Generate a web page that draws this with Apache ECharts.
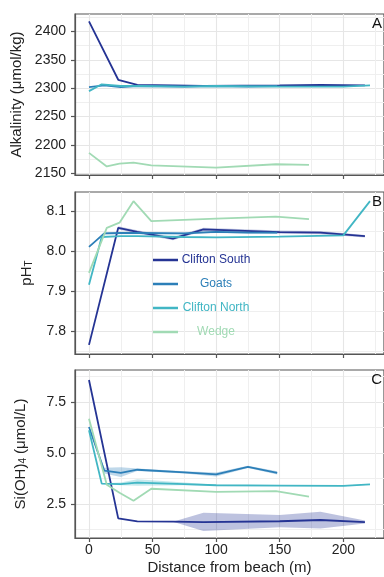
<!DOCTYPE html>
<html>
<head>
<meta charset="utf-8">
<script src="https://cdn.jsdelivr.net/npm/echarts@6/dist/echarts.min.js"></script>
<style>
html, body { margin: 0; padding: 0; background: #fff; }
#chart { width: 384px; height: 577px; }
</style>
</head>
<body>
<div id="chart"></div>
<script>
const sites = ['Clifton South', 'Goats', 'Clifton North', 'Wedge']
const siteColors = ['#253494', '#2c7fb8', '#41b6c4', '#a1dab4']

// Clifton South
const csDist = [0, 23, 38, 66, 90, 150, 182, 217]
const csAlk = [2418, 2315, 2306, 2305, 2304, 2305, 2306, 2305]
const csPH = [7.765, 8.059, 8.049, 8.032, 8.055, 8.048, 8.047, 8.038]
const csPHLo = [7.765, 8.055, 8.045, 8.028, 8.051, 8.044, 8.043, 8.035]
const csPHHi = [7.765, 8.063, 8.053, 8.036, 8.059, 8.052, 8.051, 8.041]
const csSi = [8.57, 1.80, 1.65, 1.64, 1.62, 1.66, 1.72, 1.62]
const csSiLo = [8.57, 1.80, 1.65, 1.64, 1.18, 1.37, 1.30, 1.55]
const csSiHi = [8.57, 1.80, 1.65, 1.64, 2.08, 1.97, 2.12, 1.70]

// Goats
const gDist = [0, 12, 25, 38, 75, 100, 125, 148]
const gAlk = [2302, 2305, 2302, 2304, 2303, 2304, 2303, 2304]
const gPH = [8.011, 8.045, 8.046, 8.046, 8.045, 8.049, 8.047, 8.047]
const gPHLo = [8.011, 8.042, 8.043, 8.043, 8.042, 8.046, 8.044, 8.044]
const gPHHi = [8.011, 8.048, 8.049, 8.049, 8.048, 8.052, 8.050, 8.050]
const gSi = [6.27, 4.14, 4.03, 4.18, 4.05, 3.95, 4.32, 4.03]
const gSiLo = [6.27, 4.00, 3.83, 4.12, 4.00, 3.85, 4.27, 3.95]
const gSiHi = [6.27, 4.28, 4.30, 4.24, 4.10, 4.05, 4.37, 4.10]

// Clifton North
const cnDist = [0, 10, 25, 38, 75, 100, 150, 200, 221]
const cnAlk = [2295, 2307, 2304, 2304, 2303, 2304, 2303, 2303, 2305]
const cnPH = [7.916, 8.036, 8.038, 8.038, 8.036, 8.035, 8.037, 8.040, 8.126]
const cnSi = [6.11, 3.50, 3.48, 3.55, 3.48, 3.42, 3.40, 3.39, 3.46]
const cnSiLo = [6.11, 3.48, 3.42, 3.40, 3.42, 3.40, 3.38, 3.37, 3.44]
const cnSiHi = [6.11, 3.52, 3.55, 3.72, 3.55, 3.44, 3.42, 3.41, 3.48]

// Wedge
const wDist = [0, 14, 24, 35, 49, 100, 147, 173]
const wAlk = [2186, 2162, 2167, 2169, 2164, 2160, 2166, 2165]
const wPH = [7.946, 8.059, 8.072, 8.126, 8.076, 8.082, 8.087, 8.081]
const wSi = [6.68, 3.45, 3.05, 2.66, 3.25, 3.10, 3.13, 2.86]

const xTicks = [0, 50, 100, 150, 200]
const xMinor = [25, 75, 125, 175, 225]
const alkTicks = [2150, 2200, 2250, 2300, 2350, 2400]
const alkMinor = [2175, 2225, 2275, 2325, 2375, 2425]
const phTicks = [7.8, 7.9, 8.0, 8.1]
const phMinor = [7.75, 7.85, 7.95, 8.05, 8.15]
const siTicks = [2.5, 5.0, 7.5]
const siMinor = [1.25, 3.75, 6.25, 8.75]

const FONT = 'Liberation Sans'
const AXIS = '#555'
const TXT = '#222'

let chart = echarts.init(document.getElementById('chart'), null, { renderer: 'canvas' })

let panels = [
  { top: 14, height: 161, min: 2147, max: 2431, ticks: alkTicks, minor: alkMinor, fmt: v => String(v),
    name: 'Alkalinity (μmol/kg)', gap: 47, letter: 'A' },
  { top: 192, height: 162, min: 7.742, max: 8.149, ticks: phTicks, minor: phMinor, fmt: v => v.toFixed(1),
    name: '{a|pH}{b|T}', gap: 41, letter: 'B' },
  { top: 370, height: 168, min: 0.84, max: 9.06, ticks: siTicks, minor: siMinor, fmt: v => v.toFixed(1),
    name: '{a|Si(OH)}{b|4}{a| (μmol/L)}', gap: 47, letter: 'C' }
]

let grids = []
let xAxes = []
let yAxes = []
let titles = []
panels.forEach((p, k) => {
  grids.push({ left: 75, top: p.top, width: 310, height: p.height, show: true,
    borderColor: AXIS, borderWidth: 1.2, backgroundColor: 'transparent' })
  // main x axis
  xAxes.push({
    gridIndex: k, type: 'value', min: -11, max: 232,
    name: k === 2 ? 'Distance from beach (m)' : '', nameLocation: 'middle', nameGap: 22,
    nameTextStyle: { fontSize: 15, color: TXT, fontFamily: FONT },
    axisLine: { show: true, onZero: false, lineStyle: { color: AXIS, width: 1.2 } },
    axisTick: { show: true, length: 4, customValues: xTicks, lineStyle: { color: AXIS, width: 1.2 } },
    axisLabel: { show: k === 2, customValues: xTicks, margin: 5, fontSize: 14, color: TXT, fontFamily: FONT },
    splitLine: { show: true, lineStyle: { color: '#e6e6e6', width: 1.1 } }
  })
  // minor grid x
  xAxes.push({
    gridIndex: k, type: 'value', min: -11, max: 232, position: 'bottom',
    axisLine: { show: false }, axisTick: { show: false, customValues: xMinor },
    axisLabel: { show: false, customValues: xMinor },
    splitLine: { show: true, lineStyle: { color: '#efefef', width: 1 } }
  })
  yAxes.push({
    gridIndex: k, type: 'value', min: p.min, max: p.max,
    name: p.name, nameLocation: 'middle', nameGap: p.gap,
    nameTextStyle: { fontSize: 15, color: TXT, fontFamily: FONT,
      rich: {
        a: { fontSize: 15, color: TXT, fontFamily: FONT },
        b: { fontSize: 10, color: TXT, fontFamily: FONT, verticalAlign: 'bottom', padding: [8, 0, 0, 0], lineHeight: 10 }
      } },
    axisLine: { show: true, onZero: false, lineStyle: { color: AXIS, width: 1.2 } },
    axisTick: { show: true, length: 4, customValues: p.ticks, lineStyle: { color: AXIS, width: 1.2 } },
    axisLabel: { customValues: p.ticks, margin: 9, fontSize: 14, color: TXT, fontFamily: FONT, formatter: p.fmt },
    splitLine: { show: true, lineStyle: { color: '#e6e6e6', width: 1.1 } }
  })
  yAxes.push({
    gridIndex: k, type: 'value', min: p.min, max: p.max, position: 'left',
    axisLine: { show: false }, axisTick: { show: false, customValues: p.minor },
    axisLabel: { show: false, customValues: p.minor },
    splitLine: { show: true, lineStyle: { color: '#efefef', width: 1 } }
  })
  titles.push({ text: p.letter, right: 2, top: p.top + 2, padding: 0,
    textStyle: { fontSize: 15, fontWeight: 'normal', fontFamily: FONT, color: '#111' } })
})

function line (name, color, dist, vals, k) {
  return {
    name: name, type: 'line', xAxisIndex: k * 2, yAxisIndex: k * 2,
    data: dist.map((d, i) => [d, vals[i]]),
    symbol: 'none', showSymbol: false,
    lineStyle: { color: color, width: 1.8 }, itemStyle: { color: color },
    emphasis: { disabled: true }, z: 4
  }
}
// shaded band between lo and hi, drawn as one polygon through the axes
function ribbon (color, dist, lo, hi, k, alpha) {
  const rows = dist.map((d, i) => [d, lo[i], hi[i]])
  return {
    type: 'custom', xAxisIndex: k * 2, yAxisIndex: k * 2,
    data: rows, silent: true, z: 3,
    encode: { x: 0, y: [1, 2] },
    renderItem: function (params, api) {
      if (params.dataIndex !== 0) return
      const upper = rows.map(r => api.coord([r[0], r[2]]))
      const lower = rows.map(r => api.coord([r[0], r[1]])).reverse()
      return {
        type: 'polygon',
        shape: { points: upper.concat(lower) },
        style: { fill: color, opacity: alpha }
      }
    }
  }
}

let series = [
  ribbon(siteColors[0], csDist, csPHLo, csPHHi, 1, 0.25),
  ribbon(siteColors[1], gDist, gPHLo, gPHHi, 1, 0.25),
  ribbon(siteColors[0], csDist, csSiLo, csSiHi, 2, 0.3),
  ribbon(siteColors[1], gDist, gSiLo, gSiHi, 2, 0.3),
  ribbon(siteColors[2], cnDist, cnSiLo, cnSiHi, 2, 0.3),
  line(sites[0], siteColors[0], csDist, csAlk, 0),
  line(sites[1], siteColors[1], gDist, gAlk, 0),
  line(sites[2], siteColors[2], cnDist, cnAlk, 0),
  line(sites[3], siteColors[3], wDist, wAlk, 0),
  line(sites[0], siteColors[0], csDist, csPH, 1),
  line(sites[1], siteColors[1], gDist, gPH, 1),
  line(sites[2], siteColors[2], cnDist, cnPH, 1),
  line(sites[3], siteColors[3], wDist, wPH, 1),
  line(sites[0], siteColors[0], csDist, csSi, 2),
  line(sites[1], siteColors[1], gDist, gSi, 2),
  line(sites[2], siteColors[2], cnDist, cnSi, 2),
  line(sites[3], siteColors[3], wDist, wSi, 2)
]

chart.setOption({
  animation: false,
  backgroundColor: '#fff',
  title: titles,
  grid: grids,
  xAxis: xAxes,
  yAxis: yAxes,
  legend: {
    data: sites.map((s, i) => ({ name: s, textStyle: { color: siteColors[i] } })),
    orient: 'vertical', left: 153, top: 254, padding: 0,
    icon: 'rect', itemWidth: 25, itemHeight: 2.5, itemGap: 12,
    formatter: '{t|{name}}',
    textStyle: { fontSize: 12, fontFamily: FONT,
      rich: { t: { width: 66, align: 'center', fontSize: 12, lineHeight: 16, fontFamily: FONT } } }
  },
  series: series
})
</script>
</body>
</html>
